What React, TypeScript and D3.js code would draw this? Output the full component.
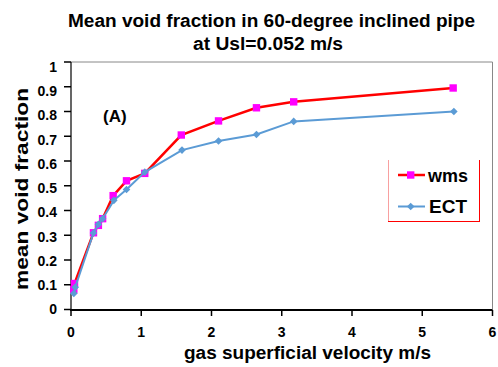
import React from "react";
import * as d3 from "d3";

const wmsX = [0.04, 0.05, 0.32, 0.39, 0.45, 0.6, 0.79, 1.05, 1.57, 2.1, 2.64, 3.17, 5.44];
const wmsY = [0.08, 0.105, 0.31, 0.34, 0.367, 0.46, 0.52, 0.55, 0.705, 0.762, 0.815, 0.839, 0.895];
const ectX = [0.04, 0.06, 0.32, 0.39, 0.45, 0.61, 0.79, 1.05, 1.58, 2.1, 2.64, 3.17, 5.45];
const ectY = [0.065, 0.09, 0.309, 0.344, 0.367, 0.441, 0.485, 0.555, 0.644, 0.681, 0.707, 0.76, 0.8];
const xTicks = [0, 1, 2, 3, 4, 5, 6];
const yTicks = [0, 0.1, 0.2, 0.3, 0.4, 0.5, 0.6, 0.7, 0.8, 0.9, 1];
const titleLines = ["Mean void fraction in 60-degree inclined pipe", "at Usl=0.052 m/s"];
const xLabel = "gas superficial velocity m/s";
const yLabel = "mean void fraction";
const seriesNames = ["wms", "ECT"];

const FONT = "'Liberation Sans', Arial, sans-serif";

export default function App() {
  const W = 498, H = 367;
  const x = d3.scaleLinear().domain([0, 6]).range([71, 492.5]);
  const y = d3.scaleLinear().domain([0, 1]).range([309.5, 62]);
  const yLab = d3.scaleLinear().domain([0, 1]).range([309.5, 67]);
  const line = d3.line<[number, number]>().x(d => x(d[0])).y(d => y(d[1]));
  const wms: [number, number][] = wmsX.map((v, i) => [v, wmsY[i]]);
  const ect: [number, number][] = ectX.map((v, i) => [v, ectY[i]]);
  const red = "#ff0000", mag = "#ff00ff", blue = "#5b9bd5";
  const diamond = (cx: number, cy: number, r: number) =>
    `M${cx},${cy - r}L${cx + r},${cy}L${cx},${cy + r}L${cx - r},${cy}Z`;

  return (
    <svg width={W} height={H} style={{ position: "absolute", left: 0, top: 0, background: "#fff" }} fontFamily={FONT}>
      <rect x={0} y={0} width={W} height={H} fill="#fff" />
      {/* title */}
      <text x={271.5} y={27} textAnchor="middle" fontSize={18} fontWeight="bold" textLength={407} lengthAdjust="spacingAndGlyphs">{titleLines[0]}</text>
      <text x={268} y={50} textAnchor="middle" fontSize={18} fontWeight="bold" textLength={150} lengthAdjust="spacingAndGlyphs">{titleLines[1]}</text>
      {/* frame */}
      <line x1={x(0)} x2={x(6)} y1={y(1)} y2={y(1)} stroke="#888" strokeWidth={1} />
      <line x1={x(6)} x2={x(6)} y1={y(1)} y2={y(0)} stroke="#888" strokeWidth={1} />
      {/* y axis */}
      <line x1={x(0)} x2={x(0)} y1={y(1)} y2={y(0)} stroke="#000" strokeWidth={1.2} />
      {yTicks.map(t => (
        <g key={t}>
          <line x1={x(0) - 7} x2={x(0)} y1={y(t)} y2={y(t)} stroke="#000" strokeWidth={1.5} />
          <text x={57} y={yLab(t)} dy="0.35em" textAnchor="end" fontSize={14} fontWeight="bold">{d3.format("")(+t.toFixed(1))}</text>
        </g>
      ))}
      {/* x axis */}
      <line x1={x(0) - 1} x2={x(6)} y1={310} y2={310} stroke="#000" strokeWidth={2} />
      {xTicks.map(t => (
        <g key={t}>
          <line x1={x(t)} x2={x(t)} y1={310} y2={316} stroke="#000" strokeWidth={1.5} />
          <text x={x(t)} y={337} textAnchor="middle" fontSize={14} fontWeight="bold">{t}</text>
        </g>
      ))}
      {/* axis labels */}
      <text x={307.5} y={359} textAnchor="middle" fontSize={18} fontWeight="bold" textLength={247} lengthAdjust="spacingAndGlyphs">{xLabel}</text>
      <text transform="translate(28,189) rotate(-90)" textAnchor="middle" fontSize={19} fontWeight="bold" textLength={202} lengthAdjust="spacingAndGlyphs">{yLabel}</text>
      {/* annotation */}
      <text x={103} y={122} fontSize={17} fontWeight="bold">(A)</text>
      {/* series wms */}
      <path d={line(wms) || ""} fill="none" stroke={red} strokeWidth={2.5} />
      {wms.map((d, i) => (
        <rect key={i} x={x(d[0]) - 3.7} y={y(d[1]) - 3.7} width={7.4} height={7.4} fill={mag} />
      ))}
      {/* series ECT */}
      <path d={line(ect) || ""} fill="none" stroke={blue} strokeWidth={2} />
      {ect.map((d, i) => (
        <path key={i} d={diamond(x(d[0]), y(d[1]), 3.8)} fill={blue} />
      ))}
      {/* legend */}
      <line x1={388.5} x2={388.5} y1={160} y2={221} stroke="#f8a0a0" strokeWidth={1} />
      <line x1={479.5} x2={479.5} y1={160} y2={221.5} stroke={red} strokeWidth={1} />
      <line x1={388} x2={480} y1={221.5} y2={221.5} stroke={red} strokeWidth={1} />
      <line x1={398} x2={425} y1={175} y2={175} stroke={red} strokeWidth={2.5} />
      <rect x={410.7 - 3.7} y={175 - 3.7} width={7.4} height={7.4} fill={mag} />
      <text x={428} y={182} fontSize={18} fontWeight="bold" textLength={40} lengthAdjust="spacingAndGlyphs">{seriesNames[0]}</text>
      <line x1={398} x2={425} y1={206.5} y2={206.5} stroke={blue} strokeWidth={2} />
      <path d={diamond(410.7, 206.5, 3.8)} fill={blue} />
      <text x={429} y={213} fontSize={18} fontWeight="bold" textLength={38} lengthAdjust="spacingAndGlyphs">{seriesNames[1]}</text>
    </svg>
  );
}
